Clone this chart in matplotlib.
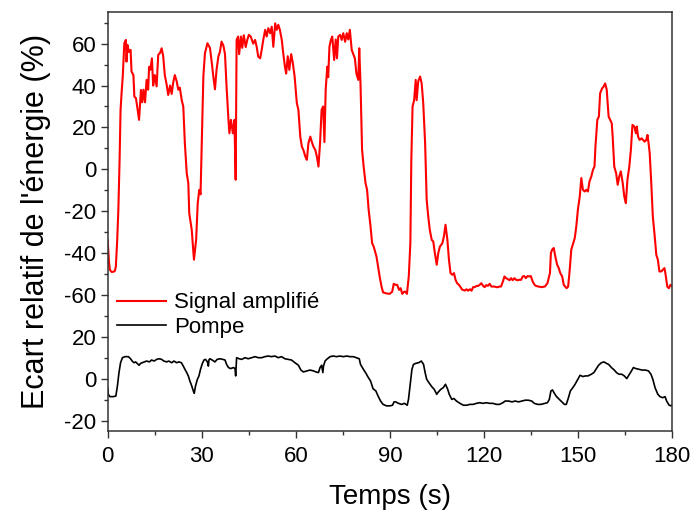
import matplotlib
matplotlib.use("Agg")
import matplotlib.pyplot as plt
from matplotlib.ticker import FixedLocator

plt.rcParams["font.family"] = ["Liberation Sans", "DejaVu Sans"]

# Amplified signal: relative energy deviation (%) versus time (s)
signal_t = [
    0.0, 0.4, 0.7, 1.2, 1.8, 2.3, 2.6, 3.0, 3.4, 3.8, 4.1, 4.5, 4.8, 5.3, 5.8, 6.0,
    6.3, 6.8, 7.3, 7.6, 8.2, 8.5, 9.0, 9.4, 10.0, 10.6, 11.0, 11.4, 11.9, 12.4, 12.9,
    13.2, 13.6, 14.1, 14.5, 15.0, 15.6, 16.1, 16.7, 17.2, 17.7, 18.2, 18.8, 19.3, 19.9,
    20.4, 20.9, 21.4, 22.0, 22.5, 23.0, 23.6, 24.1, 24.6, 25.2, 25.7, 26.0, 26.8, 27.5,
    28.2, 28.7, 29.2, 29.6, 30.0, 30.5, 31.0, 31.8, 32.6, 33.1, 33.7, 34.2, 34.7, 35.3,
    35.8, 36.3, 36.9, 37.4, 37.9, 38.5, 38.8, 39.3, 39.9, 40.4, 40.8, 41.1, 41.6, 41.9,
    42.5, 42.9, 43.4, 44.0, 44.5, 45.0, 45.6, 46.4, 47.0, 47.5, 48.0, 48.6, 49.1, 49.6,
    50.2, 50.7, 51.2, 51.8, 52.3, 52.8, 53.4, 53.9, 54.4, 54.9, 55.5, 56.0, 56.5, 56.9,
    57.4, 57.9, 58.5, 59.0, 59.6, 60.3, 60.8, 61.4, 61.9, 62.4, 63.0, 63.5, 64.0, 64.6,
    65.1, 65.6, 66.2, 66.7, 67.2, 67.7, 68.2, 68.7, 69.1, 69.5, 70.0, 70.3, 70.7, 71.2,
    71.6, 72.2, 72.7, 73.1, 73.5, 74.1, 74.6, 75.1, 75.7, 76.2, 76.7, 77.2, 77.8, 78.3,
    78.8, 79.3, 79.9, 80.2, 80.6, 81.1, 81.6, 82.2, 82.7, 83.2, 83.8, 84.3, 84.8, 85.7,
    86.2, 86.7, 87.3, 87.8, 88.9, 89.9, 90.7, 91.2, 91.8, 92.3, 92.9, 93.4, 93.9, 94.5,
    95.0, 95.4, 96.0, 96.5, 96.8, 97.2, 97.7, 98.2, 98.5, 99.0, 99.6, 100.1, 100.6,
    101.2, 101.7, 102.2, 102.7, 103.3, 103.8, 104.3, 104.9, 105.4, 105.9, 106.7, 107.2,
    107.7, 108.3, 108.8, 109.3, 109.9, 110.4, 110.9, 111.4, 112.0, 112.5, 113.0, 113.9,
    114.4, 114.9, 115.5, 116.0, 116.5, 117.0, 117.6, 118.1, 118.6, 119.1, 119.7, 120.2,
    120.7, 121.2, 121.8, 122.3, 122.8, 123.3, 123.9, 124.4, 124.9, 125.4, 126.0, 126.5,
    127.0, 127.6, 128.1, 128.6, 129.1, 129.7, 130.2, 130.7, 131.2, 131.8, 132.3, 132.8,
    133.3, 133.9, 134.4, 134.9, 135.5, 136.0, 136.5, 137.3, 138.3, 139.4, 140.2, 141.0,
    141.3, 141.7, 142.2, 142.7, 143.3, 143.8, 144.3, 144.9, 145.4, 146.3, 146.8, 147.3,
    147.8, 148.4, 148.9, 149.4, 149.9, 150.5, 151.0, 151.5, 152.1, 152.6, 153.1, 153.6,
    154.2, 154.7, 155.2, 155.5, 156.1, 156.6, 157.0, 157.6, 158.1, 158.6, 159.1, 159.7,
    160.2, 160.7, 161.0, 161.5, 162.1, 162.6, 163.1, 163.6, 164.2, 164.7, 165.2, 165.7,
    166.3, 166.8, 167.3, 167.9, 168.4, 168.7, 169.1, 169.6, 170.2, 170.7, 171.2, 171.7,
    172.1, 172.5, 172.8, 173.3, 173.8, 174.4, 174.9, 175.4, 175.9, 176.5, 177.0, 177.5,
    177.8, 178.4, 178.9, 179.4, 180.0,
]
signal_v = [
    -34, -44, -48, -49, -49, -48.5, -46.4, -35, -19.4, 5, 28.4, 38, 44.3, 60.2, 61.8, 51.4,
    59.4, 56, 57, 46.7, 45, 34.7, 34, 30, 23.6, 37.9, 32, 38, 32, 42.7, 38,
    49, 47.5, 53, 40, 45, 39.6, 54.6, 55.6, 57.8, 54, 45, 40.4, 35.5, 40,
    36, 41.6, 45, 42, 38, 39, 33, 30, 12.5, -1.9, -6.6, -21, -29, -43.2,
    -33.7, -16.2, -9.8, -12, 12.5, 44.3, 55.4, 60.2, 58, 52, 44, 38.2, 47.5, 54,
    56.2, 61, 59, 55, 39.5, 23.6, 17.2, 23.6, 17.2, 23.6, -5, 61.8, 63.4, 55,
    63.4, 58, 64, 58.4, 61.8, 64.2, 63.4, 60, 61.8, 58.5, 53.8, 53, 57, 61.8,
    66.6, 63.4, 67.4, 65, 68.1, 58.5, 69.7, 66.6, 69, 66.6, 61.8, 55, 49, 45.7,
    54, 47.5, 55, 51, 44.3, 31.6, 28.4, 15.6, 10.8, 9.2, 6.1, 4.5, 12.5, 15.6,
    13, 10.8, 9.2, 6, 1.3, 12.5, 28.4, 30, 13, 38, 49, 44, 58.6, 62,
    63.4, 52.2, 62, 53, 63.4, 64.2, 61.8, 65, 60.9, 65, 62, 66.6, 57, 55,
    53, 45.7, 42.7, 57.8, 41, 9.3, 1.3, -6.6, -9.8, -19.4, -27.3, -35.3, -36.9, -41.7,
    -46.4, -51.2, -56, -58.8, -59.3, -59.5, -58.5, -54.7, -55.2, -55.2, -57.6, -56.8, -59.5, -58.5,
    -58.5, -59.5, -51, -35, 4.5, 30, 33, 42.7, 33, 42, 44.3, 41, 31.6,
    12.5, -14.6, -22.6, -29, -33.7, -34.5, -40, -45.6, -40, -37, -35.3, -32,
    -26.5, -33.7, -43.2, -49.6, -50.4, -49.6, -52.8, -54.4, -55.2, -56.4, -57.5, -57.9,
    -57.3, -58, -57.3, -58, -56.3, -56.3, -55.7, -55.7, -55.2, -54.4, -55.7, -56.3,
    -55.3, -55.7, -54.7, -56, -56, -56, -56.3, -56.3, -56, -56, -53.6, -51.2,
    -52, -52.5, -53, -52, -53, -52, -52.8, -53, -52.8, -52.8, -51.2, -51,
    -52, -51, -51.2, -51, -53.6, -55, -55.7, -56, -56.3, -56, -54.4, -49.6,
    -40, -38.4, -37.6, -41.6, -45.6, -47.2, -49.6, -51.2, -55.2, -56.8, -56, -48,
    -38.4, -35.3, -32.9, -27.3, -19.4, -13, -4.2, -9.8, -10.6, -9.8, -10.6, -5.8,
    -3.4, -0.3, 1.3, 10.8, 23.6, 25.2, 36.3, 38.6, 39.5, 41, 38, 25.2,
    23.6, 22, 15.6, 1.3, -1.9, -7.4, -3.4, -1, -6.6, -13, -16.2, -5,
    1.3, 9.3, 21.2, 20.4, 17.2, 20.4, 15.6, 14, 14.8, 14, 13.2, 14,
    16.4, 11.7, 7.7, -6.6, -22.6, -32, -40.8, -43.2, -48.8, -48.8, -48, -47.2,
    -49.6, -56, -56.8, -55.2, -56,
]

# Pump: relative energy deviation (%) versus time (s)
pump_t = [
    0.0, 0.2, 0.7, 1.8, 2.6, 3.1, 3.6, 4.1, 4.7, 5.5, 6.6, 7.3, 7.8, 8.4, 8.9, 9.4,
    10.0, 10.5, 11.0, 11.6, 12.4, 13.3, 14.0, 14.8, 15.6, 16.4, 17.2, 17.9, 18.8, 19.5,
    20.4, 21.1, 22.0, 22.7, 23.5, 24.1, 24.6, 25.2, 25.7, 26.2, 26.8, 27.3, 27.6, 28.0,
    28.6, 29.1, 29.6, 30.2, 30.7, 31.2, 31.8, 32.1, 32.3, 32.6, 33.3, 34.2, 34.9, 35.8,
    36.7, 37.4, 37.9, 38.5, 39.2, 40.1, 40.6, 40.8, 41.1, 41.9, 42.7, 43.8, 44.8, 45.9,
    47.0, 48.0, 49.1, 50.1, 51.2, 52.2, 53.3, 54.4, 55.4, 56.5, 57.6, 58.6, 59.7, 60.8,
    61.6, 62.4, 63.5, 64.5, 65.6, 66.4, 67.2, 67.7, 68.2, 68.6, 68.8, 69.3, 69.8, 70.9,
    71.9, 73.0, 74.0, 75.1, 76.2, 77.2, 78.3, 79.3, 80.2, 80.6, 81.5, 82.2, 83.1, 83.8,
    84.6, 85.5, 86.2, 87.0, 87.8, 88.9, 90.0, 90.8, 91.3, 91.8, 92.7, 93.7, 94.6, 95.5,
    95.9, 96.4, 97.0, 97.5, 98.2, 99.1, 100.0, 100.7, 101.2, 101.7, 102.4, 103.3, 104.1,
    104.9, 105.4, 106.2, 107.0, 107.7, 108.4, 108.9, 109.7, 110.4, 111.2, 112.3, 113.4,
    114.4, 115.5, 116.5, 117.6, 118.6, 119.7, 120.7, 121.8, 122.8, 123.9, 124.9, 126.0,
    126.7, 127.8, 128.9, 129.9, 131.0, 132.0, 133.1, 134.1, 135.2, 136.0, 137.1, 138.1,
    139.2, 140.2, 140.8, 141.3, 141.8, 142.4, 143.1, 144.0, 144.8, 145.6, 146.2, 146.9,
    147.5, 148.3, 149.0, 149.9, 150.6, 151.5, 152.3, 153.1, 154.2, 155.0, 155.8, 156.5,
    157.4, 158.2, 159.0, 159.7, 160.6, 161.5, 162.2, 163.0, 163.9, 164.7, 165.5, 166.0,
    166.8, 167.6, 168.4, 169.3, 170.3, 171.4, 172.4, 173.2, 173.8, 174.5, 175.4, 176.1,
    176.9, 177.7, 178.2, 179.0, 179.6, 180.0,
]
pump_v = [
    -4.3, -7.5, -8.6, -8.6, -8.3, -3.5, 2.9, 7.6, 10, 10.5, 10.5, 9.5, 8.4, 7.6, 8, 7.3,
    6.4, 7.3, 7.6, 8, 8.4, 8, 8.9, 8.4, 9.2, 9.5, 9.2, 8.4, 8, 8.4,
    7.6, 8.4, 7.6, 8, 7.6, 6, 4.5, 2.9, 1.3, -1.1, -3.5, -5.9, -7.0, -3.5,
    -0.3, 1.3, 4.5, 7.3, 8.9, 9.2, 8, 6, 9, 9.5, 8.9, 8, 9.2, 9.5,
    9.2, 8.9, 6.8, 5.3, 4.8, 5.3, 4.8, 1.3, 10, 9.5, 9.2, 10, 9.5, 10,
    10.5, 10, 10, 10.5, 10.8, 10.5, 10.8, 10, 10.5, 9.5, 9.2, 8.9, 7.6, 6.4,
    4.1, 3.2, 3.7, 4.1, 3.7, 3.2, 2.9, 5.3, 6.4, 2.9, 6, 8.4, 9.2, 10.5,
    10.8, 10.5, 10.8, 10.5, 10.8, 10.5, 10.5, 10, 9.5, 6.8, 4.5, 2.9, 0.5, -1.1,
    -4.8, -5.9, -8.3, -10.7, -12.3, -13, -13, -12.7, -11.1, -11.1, -11.8, -12.3, -11.8, -12.7,
    -9.9, -3.5, 4.5, 6.8, 7.3, 7.6, 8.4, 6.8, 2.9, -0.3, -1.9, -3.8, -5.1,
    -7.5, -6.4, -5.1, -4.3, -2.7, -5.1, -7.5, -9.9, -9.5, -10.7, -11.8, -12.7,
    -12.7, -12.3, -12.3, -11.8, -11.5, -11.8, -11.5, -11.8, -11.8, -12.3, -12.3, -11.5,
    -10.7, -10.7, -11.1, -10.7, -11.1, -10.7, -10.3, -10.3, -10.7, -11.8, -12.3, -12.3,
    -11.9, -11.5, -9.9, -5.9, -5.4, -7, -8.6, -9.9, -11.1, -12.3, -12.3, -9.1,
    -5.9, -4.3, -2.7, -0.3, 1.6, 1, 1.3, 1.3, 2.1, 2.9, 4.8, 6.4,
    7.6, 8, 7.3, 6.8, 5.3, 4.1, 2.9, 2.1, 2.1, 1.3, 0, 1.3,
    3.2, 5.3, 4.8, 4.5, 4.1, 4.1, 3.7, 2.1, -0.3, -4.3, -7.5, -8.6,
    -9.1, -8.6, -10.7, -12.7, -13, -12.5,
]

# The pump trace shares the axis with the signal, shifted 100 % lower
pump_offset = -100

x_ticks = [0, 30, 60, 90, 120, 150, 180]
x_minor = [15, 45, 75, 105, 135, 165]
y_ticks = [60, 40, 20, 0, -20, -40, -60, -80, -100, -120]
y_tick_labels = ["60", "40", "20", "0", "-20", "-40", "-60", "20", "0", "-20"]
y_minor = [70, 50, 30, 10, -10, -30, -50, -70, -90, -110]

fig = plt.figure(figsize=(6.93, 5.11), dpi=100)
ax = fig.add_axes([0.1554, 0.1566, 0.8147, 0.8194])

ax.plot(signal_t, signal_v, color="#ff0000", lw=1.5, label="Signal amplifié")
ax.plot(pump_t, [p + pump_offset for p in pump_v], color="black", lw=1.2,
        label="Pompe")

ax.set_xlim(0, 180)
ax.set_ylim(-125, 75)

ax.xaxis.set_major_locator(FixedLocator(x_ticks))
ax.xaxis.set_minor_locator(FixedLocator(x_minor))
ax.set_xticklabels([str(v) for v in x_ticks])
ax.yaxis.set_major_locator(FixedLocator(y_ticks))
ax.yaxis.set_minor_locator(FixedLocator(y_minor))
ax.set_yticklabels(y_tick_labels)

for side in ax.spines.values():
    side.set_color("#333333")
    side.set_linewidth(1.1)

ax.tick_params(which="both", direction="out", color="#333333", width=1.0,
               top=False, right=False)
ax.tick_params(which="major", length=5, labelsize=16, pad=3)
ax.tick_params(axis="x", which="major", pad=6)
ax.tick_params(which="minor", length=3)

ax.set_xlabel("Temps (s)", fontsize=20, labelpad=12)
ax.set_ylabel("Ecart relatif de l'énergie (%)", fontsize=22, labelpad=10)

ax.legend(loc="center left", bbox_to_anchor=(0.0165, 0.277), frameon=False,
          fontsize=16, handlelength=2.2, handletextpad=0.35, labelspacing=0.15,
          borderpad=0, borderaxespad=0)

fig.savefig("out.png", dpi=100)
